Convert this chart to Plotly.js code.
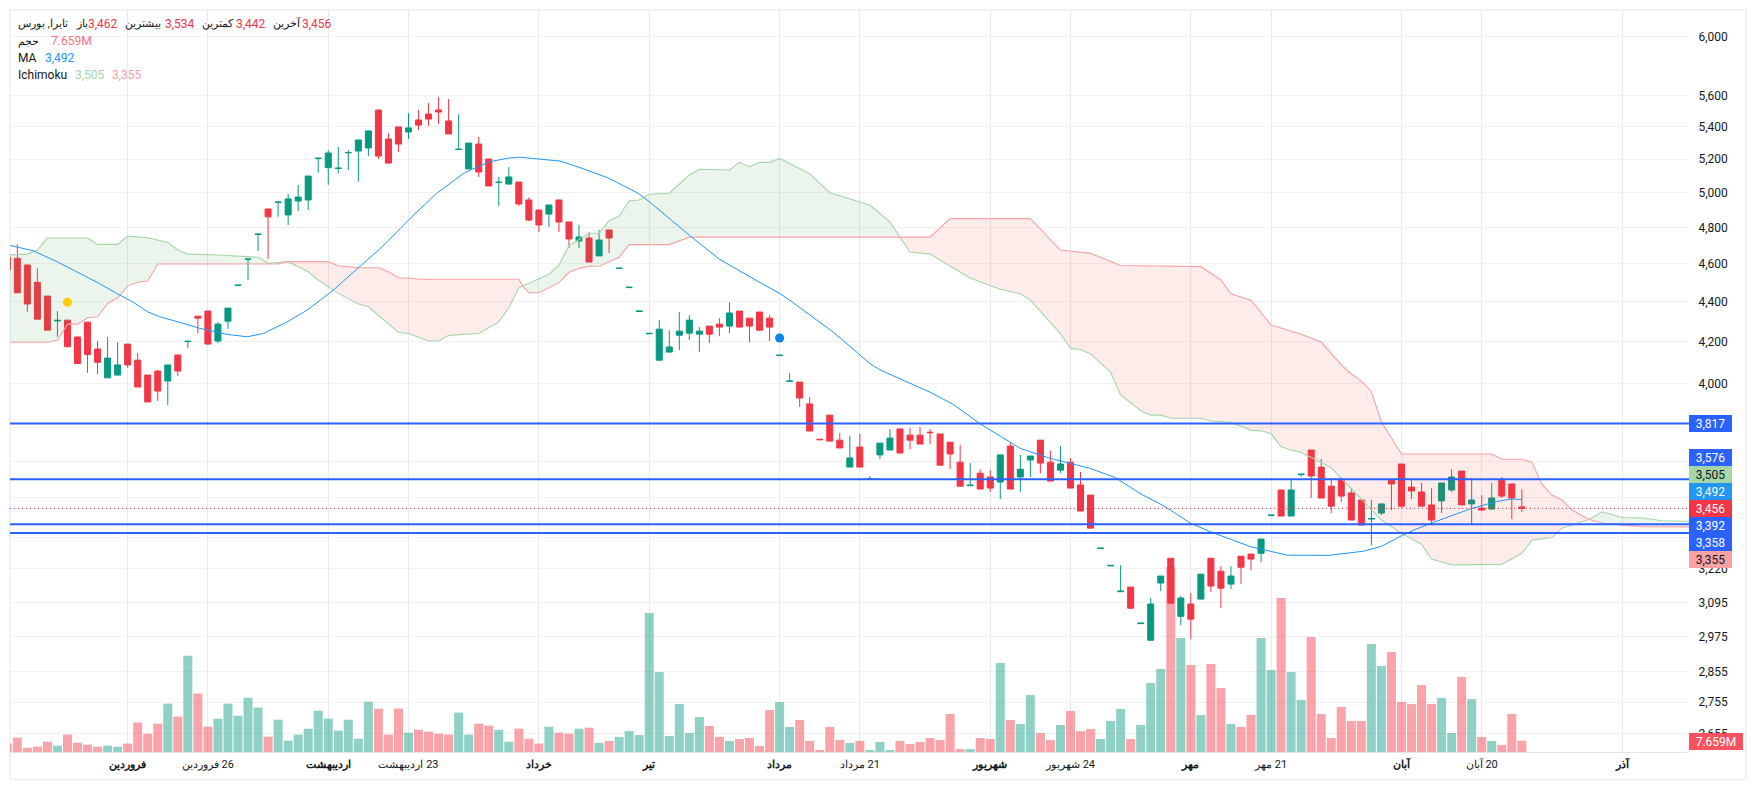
<!DOCTYPE html>
<html><head><meta charset="utf-8">
<script src="https://cdn.plot.ly/plotly-3.0.1.min.js"></script>
<style>html,body{margin:0;padding:0;background:#fff}#c{width:1757px;height:790px}</style>
</head><body><div id="c"></div>
<script>
const openP=[4637,4630,4594,4502,4430,4303,4307,4223,4297,4164,4026,4039,4188,4110,4039,4058,4011,4135,4200,4327,4353,4203,4302,4485,4624,4761,4905,4943,4871,4951,4957,5203,5148,5143,5238,5249,5268,5507,5323,5399,5367,5443,5481,5507,5437,5258,5140,5292,5200,5059,5050,5062,4957,4899,4876,4957,4831,4725,4741,4643,4786,4575,4474,4351,4239,4110,4149,4232,4242,4237,4277,4287,4277,4353,4317,4348,4317,4132,4009,4006,3905,3747,3854,3743,3627,3713,3576,3679,3700,3792,3765,3765,3778,3770,3734,3648,3549,3601,3585,3564,3717,3585,3657,3743,3648,3614,3648,3552,3510,3297,3231,3135,3152,3020,2962,3167,3260,3046,3090,3108,3260,3211,3163,3268,3276,3279,3427,3531,3425,3595,3700,3627,3547,3576,3519,3490,3413,3437,3572,3640,3543,3523,3470,3486,3531,3610,3474,3457,3453,3572,3556,3462];
const highP=[4637,4706,4594,4576,4430,4353,4307,4223,4297,4203,4223,4198,4188,4144,4039,4063,4087,4135,4203,4327,4353,4297,4368,4487,4626,4763,4905,4945,4992,5045,5098,5205,5255,5274,5255,5317,5374,5507,5361,5399,5487,5507,5552,5592,5578,5481,5298,5336,5200,5092,5152,5062,4974,4899,4928,4957,4831,4814,4775,4786,4786,4577,4476,4353,4241,4307,4257,4348,4332,4272,4277,4317,4399,4353,4317,4348,4332,4134,4048,4006,3937,3747,3854,3774,3761,3770,3589,3730,3792,3796,3796,3801,3792,3770,3734,3722,3644,3618,3614,3679,3730,3679,3674,3743,3696,3717,3666,3606,3510,3299,3233,3234,3152,3022,3112,3193,3260,3119,3130,3200,3260,3230,3230,3268,3276,3334,3429,3531,3572,3597,3700,3661,3580,3576,3539,3490,3490,3474,3572,3640,3572,3560,3539,3560,3618,3610,3580,3510,3560,3585,3556,3534];
const lowP=[4567,4447,4349,4312,4257,4224,4175,4094,4049,4044,4026,4039,4073,3983,3914,3918,3900,4034,4169,4242,4188,4193,4262,4485,4514,4670,4626,4860,4814,4893,4899,5118,5045,5114,5134,5064,5218,5200,5170,5243,5323,5380,5405,5418,5355,5258,5140,5092,5039,4922,5050,4922,4836,4775,4803,4775,4686,4686,4610,4643,4659,4575,4474,4351,4239,4110,4149,4159,4208,4149,4193,4227,4242,4272,4198,4252,4203,4132,4009,3891,3783,3745,3739,3709,3627,3627,3576,3661,3700,3687,3704,3726,3726,3635,3618,3547,3549,3535,3523,3494,3535,3523,3585,3601,3568,3601,3539,3445,3377,3297,3231,3135,3075,3020,2962,3137,3093,3014,2965,3108,3134,3075,3145,3163,3215,3245,3427,3425,3425,3586,3498,3498,3437,3482,3409,3389,3310,3429,3449,3457,3494,3465,3389,3437,3523,3470,3393,3445,3453,3498,3413,3442];
const closeP=[4567,4447,4389,4312,4257,4306,4175,4094,4137,4100,4120,4087,4087,3983,3914,3964,4087,4058,4202,4317,4188,4287,4368,4487,4626,4763,4860,4945,4963,4974,5098,5205,5237,5145,5240,5317,5374,5218,5176,5292,5393,5411,5449,5494,5355,5260,5298,5122,5039,5061,5092,4934,4842,4814,4928,4831,4736,4747,4610,4730,4741,4577,4476,4353,4241,4262,4174,4252,4307,4252,4237,4272,4343,4272,4277,4257,4272,4134,4011,3932,3783,3745,3739,3709,3666,3627,3578,3730,3752,3687,3743,3726,3776,3635,3683,3547,3551,3535,3539,3679,3535,3618,3674,3644,3568,3640,3539,3445,3377,3299,3233,3137,3075,3022,3090,3193,3093,3112,3036,3200,3156,3148,3193,3226,3257,3334,3429,3425,3531,3597,3589,3498,3465,3506,3409,3389,3415,3474,3556,3465,3527,3465,3409,3560,3585,3470,3490,3449,3498,3506,3498,3456];
const volumeM=[5.7,9.7,2.9,3.6,7.0,4.3,11.8,6.3,5.0,3.6,4.3,3.6,5.7,19.9,12.4,19.2,32.8,24,65.3,39.6,17.2,22.6,32.8,24.6,36.8,30.1,10.4,21.9,7.7,11.8,15.8,28,22.6,14.5,21.9,9,34.1,29.4,11.8,29.4,13.1,15.1,13.8,12.4,11.8,26.7,11.8,19.2,17.9,15.1,7.0,15.8,9.0,5.7,17.2,13.1,12.4,15.8,16.5,6.2,7.5,10.2,14.2,11.5,94.2,54.2,10.8,32.5,12.9,23.7,17.6,10.2,7.5,8.8,9.5,4.1,28.5,33.9,17,21.7,7.5,1.4,17,8.1,6.1,7.5,1.4,6.8,1.4,7.5,5.4,6.8,9.5,8.1,25.8,2.0,2.0,9.5,8.8,60.3,21.7,19,38.6,12.9,8.1,18.3,27.8,14.2,15.6,8.8,21,29.2,8.8,18.3,46.8,56.3,125.4,77.3,59,25.1,59.7,43.4,19,17,25.1,77.3,55.6,104.4,54.2,35.3,78,25.8,9.5,30.5,21,21,73.2,58.3,67.8,33.9,32.5,45.4,32.5,36.6,12.9,50.9,35.9,10.2,7.5,4.7,25.8,7.659];

const maIdx=[0.3,2.6,5.1,8,9.2,10.9,12.5,14,15.2,17.2,19.2,21.9,23.9,25.5,27.9,29.9,32.5,35,37.2,39.2,40,42.8,45.6,48.1,50,51.1,53.1,54.1,55.1,57.1,60,62.9,64.2,68.1,71,74.9,77,78,82.4,86,87,92,94.3,97,99,101,104,108,110.5,113,115.3,118,120,124,127.6,131.7,135.2,137,139,140.2,142.2,145.8,148.5,150,151];
const maVal=[4700,4671,4608,4529,4495,4444,4400,4349,4324,4296,4266,4236,4224,4240,4298,4358,4461,4579,4684,4795,4842,4996,5118,5184,5206,5211,5198,5196,5188,5148,5084,4996,4938,4752,4625,4505,4444,4409,4245,4094,4064,3959,3903,3815,3760,3707,3664,3621,3582,3515,3466,3396,3362,3304,3272,3271,3287,3306,3347,3369,3400,3453,3484,3494,3492];

const leadAIdx=[0,2,3,4,8,9,11,12,14,16,17,18,21,24,25,26,28,30,31,33,35,36,39,40,42,43,44,47,49,50,51,51.4,52,54,55,56,58,59,60,61,62,63,64,66,68,69,72,73,74,75,76,77,80,82,86,88,89,90,92,96,99,101,102,105,106,107,108,109,110,111,113,114,115,116,119,120,122,124,125,126,127,128,129,132,134,135,137,139,141,142,144,149,151,152,154,155,156,157.7,159,161,163,165,168];
const leadAVal=[4648,4653,4675,4741,4741,4706,4706,4752,4743,4717,4675,4653,4648,4639,4636,4603,4612,4558,4514,4444,4389,4375,4245,4240,4203,4203,4231,4240,4298,4370,4472,4482,4496,4544,4594,4699,4768,4768,4838,4865,4953,4957,4990,4996,5104,5138,5134,5180,5154,5180,5180,5204,5112,4999,4928,4831,4746,4664,4653,4525,4466,4442,4409,4240,4167,4162,4140,4096,4053,3946,3874,3854,3854,3840,3840,3828,3822,3786,3784,3772,3714,3700,3690,3624,3538,3495,3409,3357,3314,3257,3235,3237,3279,3330,3340,3377,3389,3411,3442,3419,3417,3406,3404];
const leadBIdx=[0,4,5,6,7,8,9,10,11,12,13,14,15,27,28,32,33,35,37,38,39,40,41,51,51.4,52,53,55,56,57,58,59,61,62,66,68,89,92,94,102,105,108,111,119,121,122,124,126,129,131,133,134,135,136,137,139,148,149,151,152,153,154,155,156,157.7,159,161,163,168];
const leadBVal=[4197,4197,4208,4287,4287,4319,4324,4392,4421,4482,4502,4509,4599,4599,4612,4612,4590,4579,4579,4558,4526,4525,4518,4518,4482,4447,4447,4500,4555,4576,4587,4587,4636,4705,4705,4746,4746,4746,4850,4850,4675,4657,4591,4585,4514,4442,4409,4282,4237,4198,4087,4044,4012,3961,3824,3683,3683,3660,3660,3648,3555,3510,3490,3449,3411,3397,3389,3383,3382];
const cloudBreaks=[0,28,51.4,89,157.7,168];
const cloudTops=['a','b','a','b','a'];

const levels=[3817,3576,3392,3358];
const lastClose=3456;
const markerIdx=[6,77];
const markerVal=[4398,4218];
const markerColor=['#FFCC00','#0A84E6'];

const priceTicks=[6000,5600,5400,5200,5000,4800,4600,4400,4200,4000,3800,3650,3500,3340,3220,3095,2975,2855,2755,2655];
const priceTickText=['6,000','5,600','5,400','5,200','5,000','4,800','4,600','4,400','4,200','4,000','','','','','3,220','3,095','2,975','2,855','2,755','2,655'];
const timeTicks=[12,20,32,40,53,64,77,85,98,106,118,126,139,147,161];
const timeLabels=['<b>فروردین</b>','\u200F26 فروردین','<b>اردیبهشت</b>','\u200F23 اردیبهشت','<b>خرداد</b>','<b>تیر</b>','<b>مرداد</b>','\u200F21 مرداد','<b>شهریور</b>','\u200F24 شهریور','<b>مهر</b>','\u200F21 مهر','<b>آبان</b>','\u200F20 آبان','<b>آذر</b>'];

const GREEN='#089981',RED='#F23645',BLUE='#2962FF',MA='#2196F3',LA='#A5D6A7',LB='#FAA1A4';
const L=10,R=1689,T=10,B=752;
const pxX=x=>(x-L)/(R-L), pxY=y=>1-(y-T)/(B-T);
const XMIN=(L-7.3)/10.03, XMAX=(R-7.3)/10.03;
const idx=openP.map((_,i)=>i);

const traces=[];
traces.push({type:'bar',x:idx,y:volumeM,yaxis:'y',xaxis:'x',hoverinfo:'skip',showlegend:false,
  marker:{color:idx.map(i=>closeP[i]>=openP[i]?'rgba(8,153,129,0.45)':'rgba(242,54,69,0.45)'),line:{width:0}}});
cloudTops.forEach((top,k)=>{
  const lo=cloudBreaks[k],hi=cloudBreaks[k+1];
  const ax=[],ay=[],bx=[],by=[];
  leadAIdx.forEach((v,i)=>{if(v>=lo&&v<=hi){ax.push(v);ay.push(leadAVal[i]);}});
  leadBIdx.forEach((v,i)=>{if(v>=lo&&v<=hi){bx.push(v);by.push(leadBVal[i]);}});
  traces.push({type:'scatter',mode:'lines',yaxis:'y2',x:ax.concat(bx.slice().reverse()),y:ay.concat(by.slice().reverse()),
    fill:'toself',fillcolor:top==='a'?'rgba(67,160,71,0.1)':'rgba(244,67,54,0.1)',line:{width:0},hoverinfo:'skip',showlegend:false});
});
traces.push({type:'scatter',mode:'lines',yaxis:'y2',x:leadAIdx,y:leadAVal,line:{color:LA,width:1.1},hoverinfo:'skip',showlegend:false});
traces.push({type:'scatter',mode:'lines',yaxis:'y2',x:leadBIdx,y:leadBVal,line:{color:LB,width:1.1},hoverinfo:'skip',showlegend:false});
traces.push({type:'scatter',mode:'lines',yaxis:'y2',x:maIdx,y:maVal,line:{color:MA,width:1},hoverinfo:'skip',showlegend:false});
traces.push({type:'candlestick',x:idx,open:openP,high:highP,low:lowP,close:closeP,yaxis:'y2',xaxis:'x',whiskerwidth:0,hoverinfo:'skip',showlegend:false,
  increasing:{line:{color:GREEN,width:1},fillcolor:GREEN},decreasing:{line:{color:RED,width:1},fillcolor:RED}});
levels.forEach(v=>traces.push({type:'scatter',mode:'lines',yaxis:'y2',x:[XMIN,XMAX],y:[v,v],line:{color:BLUE,width:2},hoverinfo:'skip',showlegend:false}));
traces.push({type:'scatter',mode:'lines',yaxis:'y2',x:[XMIN,XMAX],y:[lastClose,lastClose],line:{color:RED,width:1,dash:'1px,3px'},hoverinfo:'skip',showlegend:false});
traces.push({type:'scatter',mode:'markers',yaxis:'y2',x:markerIdx,y:markerVal,marker:{size:9,color:markerColor},hoverinfo:'skip',showlegend:false});

const ann=[];
function txt(x,y,text,color,size){ann.push({xref:'paper',yref:'paper',x:pxX(x),y:pxY(y),xanchor:'left',yanchor:'middle',showarrow:false,borderpad:0,text,font:{family:'Roboto, "Noto Sans", sans-serif',size:size||12,color}});}
const INK='#131722';
const AR=11;
txt(17,24,'تایرا, بورس',INK,AR);
txt(75,24,'باز',INK,AR);txt(87,24,'3,462',RED);
txt(124,24,'بیشترین',INK,AR);txt(164,24,'3,534',RED);
txt(201,24,'کمترین',INK,AR);txt(235,24,'3,442',RED);
txt(272,24,'آخرین',INK,AR);txt(301,24,'3,456',RED);
txt(17,41,'حجم',INK,AR);txt(50,41,'7.659M','#F7737F');
txt(17,58,'MA',INK);txt(44,58,'3,492',MA);
txt(17,75,'Ichimoku',INK);txt(74,75,'3,505',LA);txt(111,75,'3,355',LB);
function tag(y,text,bg,fg,w){ann.push({xref:'paper',yref:'paper',x:pxX(1689),y:pxY(y),xanchor:'left',yanchor:'middle',showarrow:false,text,bgcolor:bg,width:w||43,height:17,borderpad:0,borderwidth:0,align:'center',valign:'middle',font:{family:'Roboto, sans-serif',size:12,color:fg}});}
tag(423.3,'3,817',BLUE,'#fff');
tag(457,'3,576',BLUE,'#fff');
tag(474,'3,505',LA,INK);
tag(491,'3,492',MA,'#fff');
tag(508,'3,456',RED,'#fff');
tag(525,'3,392',BLUE,'#fff');
tag(542,'3,358',BLUE,'#fff');
tag(559,'3,355',LB,INK);
tag(741.7,'7.659M','#F7525F','#fff',54);

const layout={width:1757,height:790,paper_bgcolor:'#fff',plot_bgcolor:'#fff',showlegend:false,
  margin:{l:L,r:1757-R,t:T,b:790-B,pad:0},barmode:'overlay',bargap:0.1,boxgap:0.4,boxgroupgap:0,hovermode:false,
  font:{family:'Roboto, "Noto Sans", sans-serif',size:12,color:INK},
  xaxis:{type:'linear',range:[XMIN,XMAX],tickmode:'array',tickvals:timeTicks,ticktext:timeLabels,tickangle:0,
    showgrid:true,gridcolor:'#E9E9EE',gridwidth:1,zeroline:false,showline:true,linecolor:'#E0E3EB',linewidth:1,
    ticks:'outside',ticklen:2,tickcolor:'rgba(0,0,0,0)',rangeslider:{visible:false},anchor:'y',
    tickfont:{family:'Roboto, "Noto Sans", sans-serif',size:11,color:INK}},
  yaxis:{range:[0,742*0.678],showgrid:false,zeroline:false,showticklabels:false,ticks:'',showline:false,fixedrange:true},
  yaxis2:{type:'log',overlaying:'y',side:'right',range:[3.41482,3.79171],anchor:'x',tickmode:'array',tickvals:priceTicks,ticktext:priceTickText,
    showgrid:true,gridcolor:'#F1F1F4',gridwidth:1,zeroline:false,showline:false,ticks:'outside',ticklen:6,tickcolor:'rgba(0,0,0,0)',
    tickfont:{family:'Roboto, sans-serif',size:12,color:INK}},
  shapes:[{type:'rect',xref:'paper',yref:'paper',x0:pxX(10),x1:pxX(1746),y0:pxY(10),y1:pxY(779.5),line:{color:'#F0F1F6',width:2},fillcolor:'rgba(0,0,0,0)',layer:'below'}],
  annotations:ann};
Plotly.newPlot('c',traces,layout,{displayModeBar:false,staticPlot:true});
</script></body></html>
